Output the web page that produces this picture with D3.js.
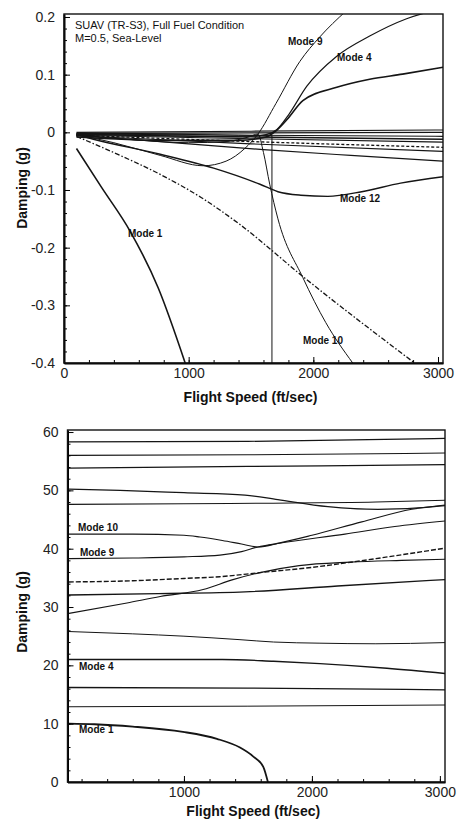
<!DOCTYPE html>
<html>
<head>
<meta charset="utf-8">
<script src="https://cdn.jsdelivr.net/npm/d3@7"></script>
<style>
  body { margin: 0; background: #fff; }
  svg { font-family: "Liberation Sans", Arial, sans-serif; background: #fff; }
  .curve { fill: none; stroke: #151515; stroke-linejoin: round; }
  .tick text { font-size: 14px; fill: #222; }
  .axis-title { font-size: 14px; font-weight: bold; fill: #111; }
  .mode-label { font-size: 10px; font-weight: bold; fill: #111; }
</style>
</head>
<body>
<div id="container"></div>
<script>
// ---------- top panel: damping vs flight speed ----------
const topXTicks = [0, 1000, 2000, 3000];
const topYTicks = [0.2, 0.1, 0, -0.1, -0.2, -0.3, -0.4];

const topMode1 = [[100, -0.028], [300, -0.095], [532, -0.172], [756, -0.27], [972, -0.4]];
const topMode4 = [[100, -0.003], [800, -0.006], [1400, -0.008], [1620, -0.004], [1708, 0.005], [1800, 0.03], [1948, 0.08], [2188, 0.132], [2452, 0.167], [2748, 0.197], [3040, 0.215]];
const topMode9 = [[100, -0.004], [400, -0.018], [772, -0.04], [1116, -0.058], [1300, -0.05], [1450, -0.028], [1556, -0.003], [1700, 0.05], [1892, 0.123], [2050, 0.165], [2260, 0.21]];
const topMode10 = [[100, -0.006], [500, -0.012], [1000, -0.018], [1300, -0.016], [1480, -0.008], [1556, -0.003], [1600, -0.035], [1650, -0.09], [1716, -0.15], [1916, -0.252], [2100, -0.33], [2316, -0.4]];
const topMode12 = [[100, -0.004], [236, -0.012], [772, -0.038], [1200, -0.062], [1572, -0.09], [1716, -0.103], [1900, -0.109], [2116, -0.111], [2388, -0.103], [2700, -0.088], [3040, -0.077]];
const topRising = [[100, -0.008], [800, -0.014], [1400, -0.014], [1620, -0.008], [1708, 0.004], [1800, 0.025], [1916, 0.055], [2188, 0.078], [2452, 0.092], [2716, 0.101], [3040, 0.113]];
const topDashDot = [[100, -0.007], [450, -0.04], [772, -0.073], [1100, -0.113], [1412, -0.16], [1916, -0.25], [2812, -0.4]];
const topDrop = [[100, -0.002], [800, -0.003], [1400, -0.005], [1668, -0.006], [1668, -0.4]];
const topFlatA = [[100, 0.0], [1500, 0.002], [3040, 0.004]];
const topFlatB = [[100, -0.002], [1500, -0.001], [3040, 0.0]];
const topFlatC = [[100, -0.003], [1500, -0.005], [3040, -0.007]];
const topFlatD = [[100, -0.004], [1500, -0.008], [3040, -0.012]];
const topFlatE = [[100, -0.005], [1500, -0.011], [3040, -0.017]];
const topFlatF = [[100, -0.005], [1500, -0.016], [3040, -0.026]];
const topFlatG = [[100, -0.006], [1500, -0.02], [3040, -0.033]];
const topFlatH = [[100, -0.005], [1000, -0.02], [1600, -0.03], [2300, -0.04], [3040, -0.05]];

// ---------- bottom panel: frequency vs flight speed ----------
const botXTicks = [1000, 2000, 3000];
const botYTicks = [0, 10, 20, 30, 40, 50, 60];

const botMode1 = [[100, 10.0], [300, 9.9], [600, 9.5], [992, 8.6], [1258, 7.4], [1438, 5.9], [1540, 4.4], [1620, 2.6], [1656, 0]];
const botLine13 = [[100, 12.9], [1500, 13.0], [3040, 13.2]];
const botLine16 = [[100, 16.2], [1500, 16.1], [3040, 15.8]];
const botMode4 = [[100, 21.0], [1000, 21.0], [1300, 21.0], [1700, 20.7], [2063, 20.3], [2586, 19.5], [3040, 18.6]];
const botLine25 = [[100, 25.8], [600, 25.4], [1000, 25.0], [1438, 24.4], [1700, 24.0], [2063, 23.8], [2500, 23.7], [3040, 23.9]];
const botLine29 = [[100, 28.9], [555, 30.7], [815, 31.8], [1150, 33.0], [1383, 34.7], [1594, 35.9], [1900, 37.1], [2300, 37.7], [2700, 38.0], [3040, 38.2]];
const botLine32 = [[100, 32.06], [800, 32.3], [1477, 32.6], [2200, 33.6], [3040, 34.7]];
const botDashed = [[100, 34.3], [600, 34.5], [1000, 34.9], [1281, 35.2], [1594, 35.9], [2000, 36.8], [2500, 38.3], [3040, 40.1]];
const botMode9 = [[100, 38.3], [600, 38.4], [1000, 38.6], [1281, 38.9], [1450, 39.5], [1578, 40.3], [1734, 40.9], [2258, 42.5], [2648, 43.8], [3040, 44.75]];
const botMode10 = [[100, 42.5], [600, 42.5], [1000, 42.3], [1125, 42.0], [1300, 41.4], [1450, 40.8], [1578, 40.3], [1750, 41.0], [2000, 42.3], [2390, 44.6], [2781, 46.75], [3040, 47.5]];
const botLine47 = [[100, 47.6], [1000, 47.7], [1594, 47.8], [2500, 48.0], [3040, 48.3]];
const botLine50 = [[100, 50.2], [500, 50.0], [1000, 49.6], [1477, 49.2], [1734, 48.4], [2125, 47.2], [2516, 46.75], [2828, 47.0], [3040, 47.4]];
const botLine53 = [[100, 53.8], [1500, 54.1], [3040, 54.4]];
const botLine56 = [[100, 56.0], [1500, 56.1], [3040, 56.4]];
const botLine58 = [[100, 58.3], [1500, 58.4], [3040, 58.9]];

const svg = d3
  .select("#container")
  .append("svg")
  .attr("width", 460)
  .attr("height", 826);

function drawPanel(p) {
  const x = d3.scaleLinear().domain(p.xDomain).range(p.xRange);
  const y = d3.scaleLinear().domain(p.yDomain).range(p.yRange);
  const g = svg.append("g").attr("id", p.id);

  // clip the curves to the plot box
  g.append("clipPath")
    .attr("id", p.id + "-clip")
    .append("rect")
    .attr("x", p.xRange[0])
    .attr("y", p.yRange[1])
    .attr("width", p.xRange[1] - p.xRange[0])
    .attr("height", p.yRange[0] - p.yRange[1]);

  const smooth = d3.line().x((d) => x(d[0])).y((d) => y(d[1])).curve(d3.curveMonotoneX);
  const straight = d3.line().x((d) => x(d[0])).y((d) => y(d[1]));

  g.append("g")
    .attr("clip-path", `url(#${p.id}-clip)`)
    .selectAll("path")
    .data(p.series)
    .enter()
    .append("path")
    .attr("class", "curve")
    .attr("d", (s) => (s.linear ? straight(s.data) : smooth(s.data)))
    .attr("stroke-width", (s) => s.w || 1.1)
    .attr("stroke-dasharray", (s) => s.dash || null);

  // minor ticks
  g.append("g")
    .attr("transform", `translate(0,${p.yRange[0]})`)
    .call(d3.axisBottom(x).tickValues(p.xMinor).tickSize(-3).tickFormat(""))
    .call((a) => a.select(".domain").remove());
  g.append("g")
    .attr("transform", `translate(${p.xRange[0]},0)`)
    .call(d3.axisLeft(y).tickValues(p.yMinor).tickSize(-3).tickFormat(""))
    .call((a) => a.select(".domain").remove());

  // major ticks + labels
  g.append("g")
    .attr("transform", `translate(0,${p.yRange[0]})`)
    .call(d3.axisBottom(x).tickValues(p.xTicks).tickSizeInner(-6).tickSizeOuter(0).tickPadding(5).tickFormat((d) => String(d)))
    .call((a) => a.select(".domain").attr("stroke-width", 2));
  g.append("g")
    .attr("transform", `translate(${p.xRange[0]},0)`)
    .call(d3.axisLeft(y).tickValues(p.yTicks).tickSizeInner(-6).tickSizeOuter(0).tickPadding(9).tickFormat((d) => String(d)))
    .call((a) => a.select(".domain").attr("stroke-width", 2));

  // frame
  g.append("rect")
    .attr("x", p.xRange[0])
    .attr("y", p.yRange[1])
    .attr("width", p.xRange[1] - p.xRange[0])
    .attr("height", p.yRange[0] - p.yRange[1])
    .attr("fill", "none")
    .attr("stroke", "#111")
    .attr("stroke-width", 1.4);

  g.selectAll(".mode-label")
    .data(p.labels)
    .enter()
    .append("text")
    .attr("class", "mode-label")
    .attr("x", (d) => x(d.at[0]))
    .attr("y", (d) => y(d.at[1]))
    .text((d) => d.text);

  const midX = (p.xRange[0] + p.xRange[1]) / 2 - 3;
  g.append("text")
    .attr("class", "axis-title")
    .attr("x", midX)
    .attr("y", p.yRange[0] + p.xTitleGap)
    .attr("text-anchor", "middle")
    .text("Flight Speed (ft/sec)");
  g.append("text")
    .attr("class", "axis-title")
    .attr("transform", `translate(27,${p.yTitle}) rotate(-90)`)
    .attr("text-anchor", "middle")
    .text("Damping (g)");

  return { x, y, g };
}

const topPanel = drawPanel({
  id: "top",
  xDomain: [0, 3040],
  xRange: [64, 443],
  yDomain: [-0.4, 0.2052],
  yRange: [363, 14],
  xTicks: topXTicks,
  yTicks: topYTicks,
  xMinor: d3.range(200, 3001, 200),
  yMinor: d3.range(-0.38, 0.2, 0.02),
  yTitle: 188,
  xTitleGap: 39,
  series: [
    { data: topFlatA }, { data: topFlatB, w: 1.4 }, { data: topFlatC },
    { data: topFlatD, w: 1.3 }, { data: topFlatE }, { data: topFlatF, w: 1.3, dash: "3,2" },
    { data: topFlatG }, { data: topFlatH, w: 1.2 },
    { data: topMode1, w: 1.6 },
    { data: topMode4, w: 1.2 },
    { data: topMode9, w: 1.0 },
    { data: topMode10, w: 1.0 },
    { data: topMode12, w: 1.4 },
    { data: topRising, w: 1.6 },
    { data: topDashDot, w: 1.3, dash: "5,2,1.5,2" },
    { data: topDrop, w: 1.0, linear: true },
  ],
  labels: [
    { text: "Mode 9", at: [1797, 0.151] },
    { text: "Mode 4", at: [2190, 0.124] },
    { text: "Mode 12", at: [2214, -0.121] },
    { text: "Mode 1", at: [513, -0.182] },
    { text: "Mode 10", at: [1917, -0.367] },
  ],
});

topPanel.g.append("text")
  .attr("x", 75)
  .attr("y", 29)
  .attr("font-size", 11)
  .attr("fill", "#111")
  .text("SUAV (TR-S3), Full Fuel Condition");
topPanel.g.append("text")
  .attr("x", 75)
  .attr("y", 42)
  .attr("font-size", 11)
  .attr("fill", "#111")
  .text("M=0.5, Sea-Level");

drawPanel({
  id: "bottom",
  xDomain: [90, 3040],
  xRange: [67.5, 445],
  yDomain: [0, 60.35],
  yRange: [782, 430],
  xTicks: botXTicks,
  yTicks: botYTicks,
  xMinor: d3.range(200, 3001, 200),
  yMinor: d3.range(2, 60, 2),
  yTitle: 612,
  xTitleGap: 34,
  series: [
    { data: botMode1, w: 1.8 },
    { data: botLine13, w: 1.0 },
    { data: botLine16, w: 1.3 },
    { data: botMode4, w: 1.3 },
    { data: botLine25, w: 1.0 },
    { data: botLine29, w: 1.1 },
    { data: botLine32, w: 1.3 },
    { data: botDashed, w: 1.4, dash: "5,2" },
    { data: botMode9, w: 1.1 },
    { data: botMode10, w: 1.1 },
    { data: botLine47, w: 1.1 },
    { data: botLine50, w: 1.3 },
    { data: botLine53, w: 1.3 },
    { data: botLine56, w: 1.1 },
    { data: botLine58, w: 1.2 },
  ],
  labels: [
    { text: "Mode 10", at: [172, 43.0] },
    { text: "Mode 9", at: [187, 38.7] },
    { text: "Mode 4", at: [180, 19.2] },
    { text: "Mode 1", at: [180, 8.4] },
  ],
});
</script>
</body>
</html>
